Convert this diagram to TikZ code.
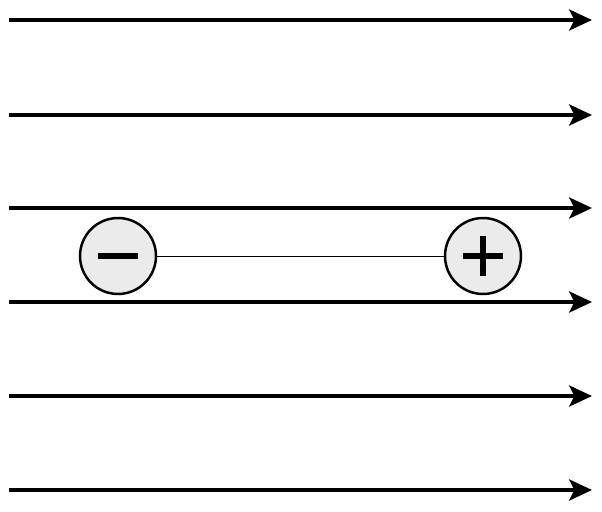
\documentclass[tikz,border=0pt]{standalone}
\usepackage{tikz}
\usetikzlibrary{arrows.meta}

\tikzset{
  fieldline/.style={line width=2.2pt,-{Stealth[length=13pt,width=12pt,inset=3pt]}},
  charge/.style={circle,draw,line width=1.4pt,fill=black!8,minimum size=1.52cm,inner sep=0pt},
  sign/.style={line width=3.3pt}
}

\begin{document}
\begin{tikzpicture}[x=0.02cm,y=-0.02cm]
\useasboundingbox (0,0) rectangle (602,511);
% field lines
\foreach \y/\n in {20/a,115/b,208/c,302/d,396/e,490/f} {
  \coordinate (\n0) at (9,\y);
  \coordinate (\n1) at (592,\y);
  \draw[fieldline] (\n0) -- (\n1);
}
% dipole
\node[charge] (neg) at (118,256) {};
\node[charge] (pos) at (483,256) {};
\draw[line width=0.5pt] (neg) -- (pos);
\draw[sign] ([xshift=-0.4cm]neg.center) -- ([xshift=0.4cm]neg.center);
\draw[sign] ([xshift=-0.4cm]pos.center) -- ([xshift=0.4cm]pos.center);
\draw[sign] ([yshift=-0.4cm]pos.center) -- ([yshift=0.4cm]pos.center);
\end{tikzpicture}
\end{document}
